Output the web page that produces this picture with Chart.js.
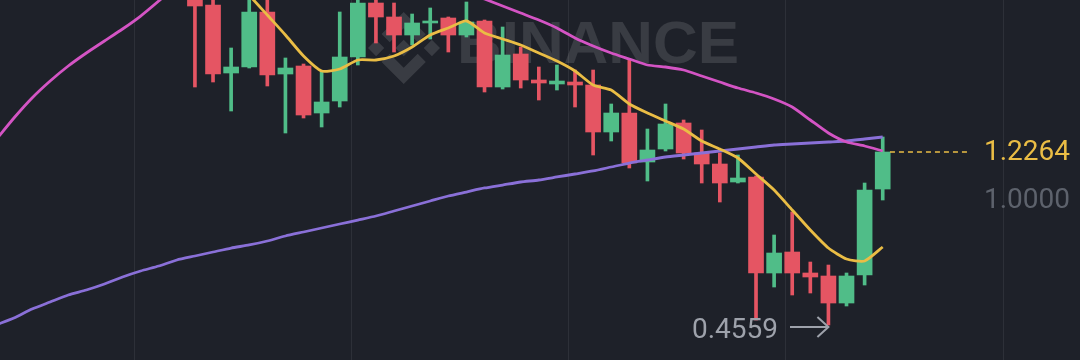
<!DOCTYPE html>
<html><head><meta charset="utf-8">
<script src="https://cdn.jsdelivr.net/npm/chart.js@4"></script>
<style>html,body{margin:0;padding:0;background:#1e2129;overflow:hidden;}canvas{display:block;}</style>
</head><body>
<canvas id="c" width="1080" height="360" style="width:1080px;height:360px"></canvas>
<script>
// ---- data (price units) ----
const opens  = [1.948, 1.8811, 1.5783, 1.605, 1.85, 1.5738, 1.6094, 1.4001, 1.4536, 1.6495, 1.890, 1.8277, 1.7475, 1.801, 1.8232, 1.7475, 1.8099, 1.5159, 1.6629, 1.5471, 1.5293, 1.5382, 1.5248, 1.3155, 1.4001, 1.1819, 1.2398, 1.3556, 1.2219, 1.173, 1.0928, 1.1151, 0.6875, 0.781, 0.6875, 0.6741, 0.5538, 0.6786, 1.0616];
const closes = [1.8767, 1.5738, 1.605, 1.85, 1.5694, 1.6005, 1.3912, 1.4491, 1.6495, 1.890, 1.8277, 1.7475, 1.801, 1.8099, 1.7475, 1.8054, 1.5159, 1.6584, 1.5471, 1.5337, 1.5426, 1.5248, 1.3155, 1.4001, 1.1774, 1.2353, 1.3511, 1.2219, 1.173, 1.0883, 1.1106, 0.6875, 0.7765, 0.6875, 0.6697, 0.5538, 0.6741, 1.0571, 1.2264];
const highs  = [1.9925, 1.9168, 1.6896, 1.9168, 1.9123, 1.6451, 1.6183, 1.5827, 1.85, 1.9257, 1.9212, 1.890, 1.841, 1.8678, 1.8277, 1.8945, 1.8143, 1.7831, 1.6941, 1.605, 1.6139, 1.5916, 1.5916, 1.4402, 1.6362, 1.3288, 1.4402, 1.3689, 1.3244, 1.2219, 1.213, 1.1195, 0.8567, 0.9592, 0.7364, 0.723, 0.6875, 1.0883, 1.2932];
const lows   = [1.5159, 1.5382, 1.409, 1.6005, 1.5204, 1.311, 1.3778, 1.3378, 1.4268, 1.6139, 1.7119, 1.6718, 1.703, 1.7297, 1.6718, 1.7386, 1.4936, 1.507, 1.5114, 1.458, 1.5025, 1.4268, 1.213, 1.2754, 1.1552, 1.0972, 1.2309, 1.1952, 1.0883, 1.0037, 1.0883, 0.4781, 0.6251, 0.5895, 0.5984, 0.4559, 0.5405, 0.634, 1.0126];

const ma7Start = 2;
const ma7 = [2.037, 1.9257, 1.8366, 1.7475, 1.654, 1.5872, 1.5961, 1.6362, 1.6362, 1.654, 1.694, 1.7475, 1.7787, 1.8099, 1.7564, 1.7297, 1.703, 1.6673, 1.6317, 1.5872, 1.5248, 1.5025, 1.4402, 1.4001, 1.3645, 1.3288, 1.2754, 1.2398, 1.1997, 1.1284, 1.0571, 0.9681, 0.879, 0.7988, 0.7498, 0.7409, 0.8033];
const ma25Start = -11;
const ma25 = [1.2798, 1.3778, 1.4669, 1.5426, 1.6094, 1.6673, 1.7208, 1.7742, 1.832, 1.899, 1.97, 2.04,
  null, null, null, null, null, null, null, null, null, null, null, null, null,
  1.99, 1.94, 1.9079, 1.8767, 1.8455, 1.8143, 1.7787, 1.7342, 1.6985, 1.6673, 1.6406, 1.6139, 1.605, 1.5916, 1.5649, 1.5382, 1.5114, 1.4892, 1.4625, 1.4268, 1.3689, 1.311, 1.2709, 1.2532, 1.2309];
const ma99Start = -11;
const ma99 = [0.4559, 0.487, 0.5271, 0.5583, 0.5895, 0.6117, 0.6385, 0.6697, 0.6964, 0.7186, 0.7454, 0.7632, 0.781, 0.7988, 0.8122, 0.83, 0.8523, 0.8701, 0.8879, 0.9057, 0.9235, 0.9413, 0.9636, 0.9859, 1.0081, 1.0304, 1.0482, 1.0661, 1.0794, 1.0928, 1.1017, 1.1151, 1.1284, 1.1418, 1.1596, 1.1774, 1.1908, 1.2041, 1.213, 1.2219, 1.2309, 1.2398, 1.2487, 1.2576, 1.262, 1.2665, 1.2709, 1.2754, 1.2843, 1.2932];

const gridIdx = [-3.35, 8.65, 20.65, 32.65, 44.65];
const lastPriceLabel = '1.2264';
const lastPrice = 1.2264;
const refLevelLabel = '1.0000';
const refLevel = 1.0;
const lowLabel = '0.4559';
const lowIndex = 35;
const watermarkText = 'BINANCE';

// ---- styling ----
const RED = '#e55563', GREEN = '#50bd88';
const YELLOW = '#eabd45', PINK = '#d454c4', PURPLE = '#8a70d8';

const isUp = opens.map((o, i) => closes[i] >= o);
const candleColors = isUp.map(u => u ? GREEN : RED);
const wickData = opens.map((o, i) => ({x: i, y: [lows[i], highs[i]]}));
const bodyData = opens.map((o, i) => ({x: i, y: [o, closes[i]]}));
const pts = (arr, start) => arr.map((v, k) => ({x: start + k, y: v}));

function drawLogo(ctx, cx, cy, size) {
  const s = size / 126.61;
  ctx.save();
  ctx.translate(cx - 63.3 * s, cy - 63.3 * s);
  ctx.scale(s, s);
  const polys = [
    [[38.171,53.203],[62.759,28.616],[87.36,53.216],[101.667,38.909],[62.759,0],[23.864,38.896]],
    [[0,63.31],[14.307,49.003],[28.613,63.31],[14.307,77.616]],
    [[97.99,63.31],[112.297,49.003],[126.61,63.31],[112.297,77.616]],
    [[62.759,48.728],[77.333,63.302],[62.759,77.876],[48.2,63.3]],
    [[87.36,73.398],[62.759,97.996],[38.171,73.41],[23.84,87.704],[62.759,126.61],[101.654,87.702]]
  ];
  for (const p of polys) {
    ctx.beginPath();
    p.forEach((q, k) => k ? ctx.lineTo(q[0], q[1]) : ctx.moveTo(q[0], q[1]));
    ctx.closePath();
    ctx.fill();
  }
  ctx.restore();
}

const overlay = {
  id: 'overlay',
  beforeDatasetsDraw(chart) {
    const ctx = chart.ctx;
    ctx.save();
    ctx.fillStyle = 'rgba(255,255,255,0.12)';
    drawLogo(ctx, 404, 48, 72);
    ctx.font = 'bold 60px "Liberation Sans"';
    ctx.textBaseline = 'alphabetic';
    ctx.textAlign = 'left';
    const w = ctx.measureText(watermarkText).width;
    ctx.translate(457, 63);
    ctx.scale(282 / w, 1);
    ctx.fillText(watermarkText, 0, 0);
    ctx.restore();
  },
  afterDatasetsDraw(chart) {
    const ctx = chart.ctx, xs = chart.scales.x, ys = chart.scales.y;
    ctx.save();
    ctx.textAlign = 'right';
    ctx.textBaseline = 'middle';
    ctx.font = '28px Roboto';
    ctx.fillStyle = YELLOW;
    ctx.fillText(lastPriceLabel, 1070, ys.getPixelForValue(lastPrice) + 1);
    ctx.fillStyle = '#5d626c';
    ctx.fillText(refLevelLabel, 1070, ys.getPixelForValue(refLevel) - 2);
    // low marker
    const lx = xs.getPixelForValue(lowIndex), ly = ys.getPixelForValue(lows[lowIndex]) + 2;
    ctx.fillStyle = '#9ea2ab';
    ctx.fillText(lowLabel, 778, ly + 4);
    ctx.strokeStyle = '#9ea2ab';
    ctx.lineWidth = 2;
    ctx.beginPath();
    ctx.moveTo(790, ly); ctx.lineTo(lx, ly);
    ctx.moveTo(lx - 11, ly - 10); ctx.lineTo(lx, ly); ctx.lineTo(lx - 11, ly + 10);
    ctx.stroke();
    ctx.restore();
  }
};

new Chart(document.getElementById('c'), {
  type: 'bar',
  data: {
    datasets: [
      {type: 'line', data: pts(ma7, ma7Start), borderColor: YELLOW, borderWidth: 2.8, pointRadius: 0, tension: 0.2, spanGaps: false, order: 0},
      {type: 'line', data: pts(ma25, ma25Start), borderColor: PINK, borderWidth: 2.8, pointRadius: 0, tension: 0.2, spanGaps: false, order: 0},
      {type: 'line', data: pts(ma99, ma99Start), borderColor: PURPLE, borderWidth: 2.8, pointRadius: 0, tension: 0.2, spanGaps: false, order: 0},
      {type: 'line', data: [{x: 38.4, y: lastPrice}, {x: 42.8, y: lastPrice}], borderColor: YELLOW, borderWidth: 1.5, borderDash: [5, 4], pointRadius: 0, order: 0},
      {type: 'bar', data: bodyData, backgroundColor: candleColors, borderWidth: 0, barThickness: 15, grouped: false, order: 2},
      {type: 'bar', data: wickData, backgroundColor: candleColors, borderWidth: 0, barThickness: 3, grouped: false, order: 3}
    ]
  },
  options: {
    responsive: false,
    animation: false,
    events: [],
    layout: {padding: 0},
    plugins: {legend: {display: false}, tooltip: {enabled: false}},
    scales: {
      x: {
        type: 'linear', min: -10.77, max: 48.9, offset: false,
        grid: {offset: false, color: 'rgba(255,255,255,0.07)', lineWidth: 1, drawTicks: false},
        border: {display: false},
        ticks: {display: false},
        afterBuildTicks: s => { s.ticks = gridIdx.map(v => ({value: v})); }
      },
      y: {min: 0.3, max: 1.9034, display: false}
    }
  },
  plugins: [overlay]
});
</script>
</body></html>
